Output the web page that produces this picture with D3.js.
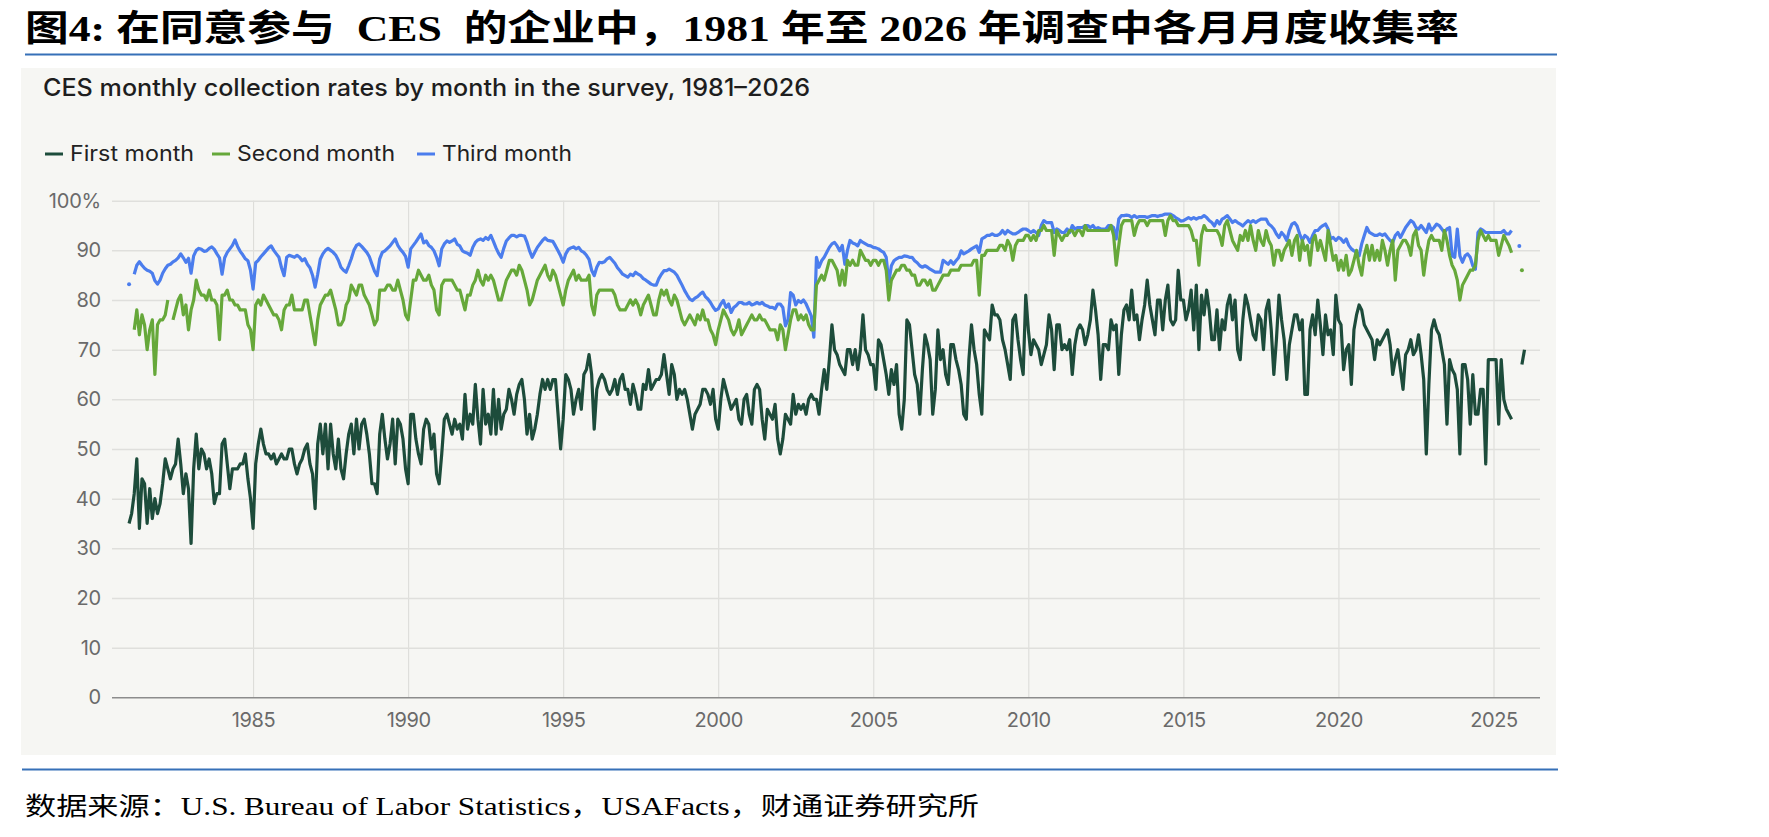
<!DOCTYPE html>
<meta charset="utf-8">
<style>
body { margin: 0; background: #fff; }
svg { display: block; }
.tick text { font-family: Inter, "Open Sans", sans-serif; fill: #6a6a6a; }
</style>
<body></body>
<script src="https://d3js.org/d3.v7.min.js"></script>
<script>

// monthly values, Jan 1981 onwards (null = no estimate published)
var startYear = 1981;

var firstMonth = [
  35, 37, 41, 48, 34, 44, 43, 35, 42, 36, 40, 37,   // 1981
  39, 43, 48, 46, 44, 46, 47, 52, 47, 41, 45, 42,
  31, 46, 53, 46, 50, 49, 46, 48, 45, 39, 41, 41,
  51, 52, 47, 42, 46, 46, 46, 47, 47, 49, 44, 40,
  34, 47, 51, 54, 51, 49, 49, 48, 49, 47, 48, 49,   // 1985
  48, 48, 50, 50, 47, 45, 47, 48, 50, 51, 47, 45,
  38, 51, 55, 49, 55, 46, 55, 49, 46, 52, 46, 44,
  49, 53, 55, 49, 56, 50, 55, 56, 53, 49, 43, 43,
  41, 53, 57, 52, 48, 51, 56, 47, 56, 55, 52, 46,
  43, 57, 57, 52, 49, 47, 54, 56, 55, 50, 53, 45,   // 1990
  43, 49, 56, 57, 55, 53, 56, 54, 55, 52, 61, 54,
  57, 55, 63, 56, 51, 62, 55, 57, 53, 62, 53, 60,
  54, 57, 58, 62, 60, 57, 61, 63, 64, 60, 53, 57,
  52, 54, 57, 61, 64, 62, 64, 62, 64, 64, 57, 50,
  56, 65, 64, 62, 57, 60, 62, 58, 65, 66, 69, 65,   // 1995
  54, 62, 64, 65, 64, 62, 61, 62, 64, 61, 64, 65,
  62, 62, 59, 63, 61, 58, 58, 63, 62, 66, 62, 63,
  64, 64, 65, 69, 65, 61, 67, 65, 60, 62, 61, 62,
  60, 57, 54, 57, 58, 59, 62, 62, 61, 59, 62, 56,
  54, 60, 64, 62, 60, 58, 59, 60, 56, 55, 60, 61,   // 2000
  57, 55, 62, 63, 62, 56, 52, 58, 57, 56, 59, 52,
  49, 52, 57, 56, 55, 61, 57, 59, 58, 59, 57, 60,
  61, 60, 60, 57, 62, 66, 62, 68, 75, 70, 69, 67,
  66, 65, 70, 70, 67, 70, 66, 70, 77, 70, 69, 67,
  67, 62, 72, 71, 68, 65, 61, 66, 63, 67, 57, 54,   // 2005
  60, 76, 75, 70, 65, 63, 57, 66, 73, 71, 68, 57,
  62, 74, 68, 70, 65, 63, 71, 71, 68, 66, 63, 57,
  56, 68, 75, 70, 67, 61, 57, 74, 73, 72, 79, 77,
  77, 76, 72, 70, 67, 64, 76, 77, 72, 68, 65, 81,
  74, 69, 72, 71, 70, 67, 69, 71, 77, 74, 66, 75,   // 2010
  75, 70, 71, 70, 72, 65, 71, 74, 75, 74, 71, 73,
  76, 82, 78, 73, 64, 71, 71, 70, 76, 74, 75, 65,
  73, 78, 79, 76, 82, 76, 77, 72, 76, 79, 84, 79,
  76, 73, 80, 80, 74, 80, 83, 76, 75, 76, 86, 80,
  80, 76, 78, 82, 74, 83, 70, 81, 77, 82, 78, 72,   // 2015
  72, 78, 70, 76, 74, 79, 81, 76, 80, 70, 68, 76,
  81, 79, 76, 73, 72, 77, 76, 70, 78, 80, 74, 65,
  72, 81, 76, 72, 64, 71, 74, 77, 77, 74, 76, 61,
  61, 74, 77, 73, 80, 75, 69, 77, 73, 74, 69, 81,
  76, 75, 66, 70, 71, 63, 74, 77, 79, 78, 75, 74,   // 2020
  73, 72, 68, 72, 71, 72, 73, 74, 71, 65, 68, 70,
  66, 62, 69, 70, 72, 69, 70, 73, 69, 64, 49, 63,
  74, 76, 74, 73, 70, 67, 55, 68, 66, 65, 62, 49,
  67, 67, 64, 55, 65, 57, 57, 62, 62, 47, 68, 68,
  68, 68, 55, 68, 60, 58, 57, 56, null, null, null, 67,   // 2025
  70
];

var secondMonth = [
  null, null, 74, 78, 73, 77, 75, 70, 74, 76, 65, 75,   // 1981
  76, 76, 77, 80, null, 76, 78, 80, 81, 77, 79, 74,
  78, 80, 84, 82, 81, 81, 80, 82, 80, 80, 79, 72,
  81, 81, 82, 80, 80, 79, 79, 78, 78, 78, 75, 74,
  70, 79, 80, 79, 81, 80, 79, 78, 77, 77, 76, 74,   // 1985
  78, 79, 79, 81, 78, 78, 78, 78, 80, 80, 77, 74,
  71, 76, 79, 80, 81, 81, 82, 80, 78, 75, 75, 76,
  79, 80, 83, 82, 81, 83, 83, 81, 80, 79, 77, 75,
  76, 82, 82, 82, 83, 83, 82, 82, 84, 82, 80, 77,
  76, 80, 84, 84, 86, 85, 84, 84, 85, 83, 82, 78,   // 1990
  77, 83, 84, 84, 84, 84, 83, 82, 82, 80, 78, 81,
  81, 83, 84, 86, 84, 83, 85, 84, 85, 84, 82, 80,
  80, 82, 84, 85, 86, 86, 85, 87, 86, 84, 82, 79,
  80, 82, 84, 85, 86, 87, 85, 84, 86, 85, 83, 81,
  79, 82, 84, 85, 86, 84, 85, 84, 84, 84, 85, 79,   // 1995
  77, 81, 82, 82, 82, 82, 82, 82, 81, 79, 78, 78,
  78, 79, 80, 79, 80, 79, 77, 79, 80, 81, 79, 77,
  77, 80, 82, 81, 82, 80, 79, 81, 80, 78, 76, 75,
  76, 77, 76, 75, 77, 76, 78, 76, 76, 74, 73, 71,
  74, 76, 78, 77, 76, 74, 73, 74, 76, 73, 74, 75,   // 2000
  76, 77, 76, 76, 77, 76, 76, 75, 74, 74, 74, 72,
  75, 74, 70, 73, 76, 78, 78, 76, 77, 76, 77, 75,
  74, 74, 83, 84, 85, 84, 86, 88, 88, 87, 86, 83,
  86, 83, 88, 87, 88, 87, 87, 90, 89, 88, 88, 87,
  88, 88, 87, 88, 88, 86, 80, 84, 85, 86, 86, 87,   // 2005
  87, 86, 86, 85, 85, 83, 83, 84, 84, 83, 84, 82,
  82, 83, 84, 85, 85, 85, 86, 86, 86, 86, 87, 87,
  87, 87, 87, 88, 88, 81, 89, 89, 90, 90, 90, 90,
  90, 91, 91, 90, 92, 91, 88, 91, 92, 92, 92, 93,
  93, 92, 93, 92, 94, 94, 95, 94, 94, 94, 89, 94,   // 2010
  93, 92, 93, 93, 94, 94, 93, 94, 94, 93, 95, 94,
  94, 94, 94, 94, 94, 94, 94, 94, 95, 93, 87, 91,
  95, 96, 96, 96, 96, 93, 95, 96, 96, 96, 95, 96,
  96, 96, 96, 96, 96, 93, 96, 97, 96, 96, 95, 95,
  95, 95, 95, 94, 92, 92, 87, 93, 95, 94, 94, 94,   // 2015
  94, 94, 93, 91, 95, 96, 94, 92, 91, 90, 93, 92,
  94, 92, 95, 92, 90, 94, 92, 91, 94, 92, 91, 87,
  90, 90, 88, 90, 91, 92, 89, 92, 93, 88, 92, 90,
  91, 87, 92, 93, 90, 92, 90, 88, 94, 91, 88, 89,
  86, 88, 86, 89, 85, 86, 88, 90, 87, 85, 89, 91,   // 2020
  88, 91, 88, 90, 88, 92, 90, 87, 90, 92, 84, 90,
  91, 92, 92, 91, 89, 93, 94, 91, 90, 85, 89, 92,
  93, 92, 92, 92, 90, 94, 92, 89, 87, 86, 84, 80,
  83, 84, 85, 86, 86, 87, 92, 94, 93, 92, 93, 92,
  92, 92, 89, 91, 93, 92, 91, 89.5, null, null, null, 86   // 2025
];

var thirdMonth = [
  83.2, null, 85.2, 87, 87.7, 87, 86.4, 86, 85.8, 85.4, 83.9, 83.2,   // 1981
  84, 85.4, 86.3, 87, 87.2, 87.7, 88, 88.5, 89.3, 88.5, 87.6, 88.4,
  85.4, 88.9, 90, 90.4, 90.2, 89.8, 89.9, 90.4, 90.7, 90.2, 89.3, 88.5,
  85.2, 88.5, 89.6, 90.3, 91, 92.1, 90.8, 89.8, 89.1, 88.3, 87.9, 86,
  82.2, 87.5, 88, 88.7, 89.3, 89.9, 90.5, 90.9, 90, 89.3, 88.6, 86.5,   // 1985
  84.9, 88.6, 89, 88.8, 88.6, 89, 88.6, 87.9, 88.3, 87.2, 86.5, 85,
  82.6, 85.2, 88.2, 89.3, 90, 90.4, 90, 89.6, 89, 88, 86.6, 86,
  85.6, 86.9, 88.3, 90, 91, 91.3, 90.8, 90.2, 89.6, 88.7, 87.2, 85.8,
  84.9, 88.3, 89.6, 89.9, 90.4, 90.9, 91.6, 92.3, 91, 90.2, 89.6, 88.8,
  86.6, 90.3, 91, 91.7, 92.5, 93.3, 91.5, 91.9, 91, 90.6, 89.9, 88.6,   // 1990
  86.9, 90.3, 91.3, 91.9, 91.6, 91.9, 92.3, 91.2, 90.9, 89.9, 89.6, 89.4,
  89, 90.6, 91.6, 92.1, 92.3, 92, 92.6, 92.2, 93, 91.8, 90.5, 89.4,
  88.6, 90.4, 91.9, 92.5, 93, 93, 92.7, 93, 93, 92.9, 91.6, 89.9,
  88.6, 89.6, 90.6, 91.3, 92, 92.5, 92, 91.9, 91.8, 90.9, 89.9, 88.9,
  87.6, 89.3, 90.2, 90.5, 90.7, 90.3, 90.6, 89.9, 89.6, 89, 88.2, 86,   // 1995
  84.9, 86.6, 87.6, 87.5, 87.7, 88.3, 88.6, 88, 87.4, 86.5, 85.9, 85.2,
  84.9, 84.6, 85.2, 84.9, 85.6, 85.2, 84.9, 84.3, 84, 83.6, 83.2, 83,
  83, 84.3, 85.2, 85.9, 85.9, 86.2, 85.9, 85.6, 85, 84, 83, 81.9,
  81, 80.2, 79.9, 80.4, 80.7, 81.2, 81.6, 80.7, 80.2, 79.5, 78.6, 77.9,
  78.2, 79.2, 79.9, 78.5, 79.2, 77.5, 78.5, 78.9, 79.5, 79.5, 79.2, 79.2,   // 2000
  79.5, 79, 79.2, 79.5, 79.2, 79.5, 79, 78.8, 78.5, 78.5, 78.2, 79.2,
  79.2, 78.5, 74.8, 76, 81.5, 81, 79, 79.9, 79.5, 80, 79.2, 78,
  76.8, 72.5, 88.6, 86.6, 87.9, 88.6, 89.6, 90.6, 91.3, 91.6, 90.9, 89.9,
  91, 87.2, 90, 92, 91.5, 91.3, 90.9, 92, 91.6, 91.3, 91, 90.9,
  90.6, 90.5, 90.3, 89.9, 89.6, 88.6, 83.6, 86.9, 87.9, 88.3, 88.6, 88.6,   // 2005
  88.9, 88.8, 88.6, 88.6, 87.9, 87.5, 86.9, 86.6, 86.9, 86.6, 86.2, 85.9,
  85.6, 85.6, 85.6, 88, 87.6, 87.2, 87.9, 87.2, 87.9, 88.5, 89.9, 89.3,
  89.6, 89.9, 90.3, 90.6, 90.9, 89.6, 92.3, 92.6, 93, 93, 93.3, 93,
  93, 93.3, 94, 93.3, 94, 93.6, 93.3, 93.3, 93.6, 94, 94.3, 94.3,
  94, 93.6, 94, 93.6, 93, 95, 96, 95.6, 95.6, 95.6, 93.6, 94.3,   // 2010
  94, 93.6, 93.6, 94.3, 93.6, 95, 94.3, 94.6, 94.6, 94.6, 95, 95,
  94.6, 95, 94.3, 94.6, 94.3, 94.3, 94.3, 95, 95, 94.6, 92.3, 96.3,
  97, 97, 97.1, 97, 96.6, 97, 96.6, 96.8, 96.8, 96.8, 96.6, 96.8,
  97, 97, 96.8, 97, 97.1, 97.3, 97.3, 97.3, 97, 96.6, 96.3, 95.9,
  96, 96.3, 96.6, 96.3, 96.6, 96.3, 96.6, 96.6, 97, 96.6, 96, 95.6,   // 2015
  94.9, 96, 95.3, 96.3, 96.6, 97, 96.3, 95.6, 96, 95.6, 95.3, 94.9,
  95.5, 96, 95.6, 96, 95.6, 96, 96.3, 96.3, 96.3, 95.3, 94.9, 94.3,
  93.3, 92.6, 93.6, 93, 92, 94, 95.3, 95.6, 94.9, 93.3, 92, 93,
  92.6, 91.6, 93, 94, 94, 94.6, 95, 95.3, 94.3, 92.3, 92.6, 92,
  92.6, 92.3, 91.6, 92.3, 91, 90.3, 89.9, 89.6, 88.9, 91.3, 93, 94.6,   // 2020
  93.6, 93.3, 93, 93, 93.3, 93, 93.3, 92.6, 92, 91.6, 93, 93.6,
  92.6, 93.6, 94.6, 95.3, 96, 95.6, 94.6, 94.3, 95, 94.3, 93.6, 95.3,
  94, 94.6, 95.3, 95, 94.3, 93.6, 94.3, 94.6, 88.9, 88.6, 94.3, 88.9,
  87.6, 88.9, 89.3, 88.6, 86.9, 86.2, 93.6, 94.3, 94, 93.6, 93.6, 93.6,
  93.6, 93.6, 93.6, 93.6, 94, 93.3, 93.3, 94, null, null, 90.9   // 2025
];

var seriesNames = ["First month", "Second month", "Third month"];
var yTicks = [0, 10, 20, 30, 40, 50, 60, 70, 80, 90, 100];
var xTickYears = [1985, 1990, 1995, 2000, 2005, 2010, 2015, 2020, 2025];

var titleText = "图4: 在同意参与  CES  的企业中，1981 年至 2026 年调查中各月月度收集率";
var chartTitle = "CES monthly collection rates by month in the survey, 1981–2026";
var sourceText = "数据来源：U.S. Bureau of Labor Statistics，USAFacts，财通证券研究所";

var colors = ["#1d4c3b", "#66a83a", "#4b7ded"];

var width = 1769,
    height = 837;

var svg = d3.select("body").append("svg")
    .attr("width", width)
    .attr("height", height);

// report header
svg.append("text")
    .attr("x", 25)
    .attr("y", 41)
    .attr("font-family", "'Liberation Serif', 'Noto Sans CJK SC', serif")
    .attr("font-weight", "bold")
    .attr("font-size", 36)
    .attr("textLength", 1434)
    .attr("lengthAdjust", "spacingAndGlyphs")
    .style("white-space", "pre")
    .attr("fill", "#000")
    .text(titleText);

svg.append("line")
    .attr("x1", 25).attr("x2", 1557)
    .attr("y1", 54.5).attr("y2", 54.5)
    .attr("stroke", "#3670b8")
    .attr("stroke-width", 2);

svg.append("rect")
    .attr("x", 21).attr("y", 68)
    .attr("width", 1535).attr("height", 687)
    .attr("fill", "#f6f6f3");

svg.append("text")
    .attr("x", 43)
    .attr("y", 96)
    .attr("font-family", "Inter, sans-serif")
    .attr("font-weight", 500)
    .attr("font-size", 24)
    .attr("textLength", 767)
    .attr("lengthAdjust", "spacingAndGlyphs")
    .attr("fill", "#1e1e1e")
    .text(chartTitle);

// legend
var legendX = [45, 212, 417];
var legendW = [124, 158, 130];
var legend = svg.append("g").selectAll("g")
    .data(seriesNames)
    .enter().append("g")
      .attr("transform", function(d, i) { return "translate(" + legendX[i] + ",0)"; });

legend.append("line")
    .attr("x1", 0).attr("x2", 18)
    .attr("y1", 154).attr("y2", 154)
    .attr("stroke", function(d, i) { return colors[i]; })
    .attr("stroke-width", 3);

legend.append("text")
    .attr("x", 25)
    .attr("y", 161)
    .attr("font-family", "Inter, sans-serif")
    .attr("font-size", 21)
    .attr("textLength", function(d, i) { return legendW[i]; })
    .attr("lengthAdjust", "spacingAndGlyphs")
    .attr("fill", "#222")
    .text(function(d) { return d; });

// scales
var x = d3.scaleLinear()
    .domain([1980.45, 2026.5])
    .range([112, 1540]);

var y = d3.scaleLinear()
    .domain([0, 100])
    .range([697.3, 200.7]);

// y axis + horizontal grid
var yAxis = svg.append("g")
    .attr("transform", "translate(112,0)")
    .call(d3.axisLeft(y)
      .tickValues(yTicks)
      .tickSize(-(1540 - 112))
      .tickPadding(11)
      .tickFormat(function(d) { return d === 100 ? "100%" : d; }));

yAxis.select(".domain").remove();
yAxis.selectAll(".tick line")
    .attr("stroke", function(d) { return d === 0 ? "#8c8c8c" : "#dfdfdc"; })
    .attr("stroke-width", function(d) { return d === 0 ? 1.6 : 1.5; });
yAxis.selectAll(".tick text")
    .attr("font-size", 20)
    .attr("letter-spacing", "-0.2px");

// x axis + vertical grid
var xAxis = svg.append("g")
    .attr("transform", "translate(0," + y(0) + ")")
    .call(d3.axisBottom(x)
      .tickValues(xTickYears)
      .tickSize(-(y(0) - y(100)))
      .tickPadding(16)
      .tickFormat(d3.format("d")));

xAxis.select(".domain").remove();
xAxis.selectAll(".tick line")
    .attr("stroke", "#dadad7")
    .attr("stroke-width", 1);
xAxis.selectAll(".tick text")
    .attr("font-size", 20)
    .attr("letter-spacing", "-0.4px");

// keep the zero line on top of the vertical grid
yAxis.raise();

// series
function toPoints(arr) {
  return arr.map(function(v, i) { return { t: startYear + i / 12, v: v }; });
}

var series = [firstMonth, secondMonth, thirdMonth].map(toPoints);

var line = d3.line()
    .defined(function(d) { return d.v != null; })
    .x(function(d) { return x(d.t); })
    .y(function(d) { return y(d.v); });

var drawOrder = [2, 1, 0];
drawOrder.forEach(function(k) {
  var pts = series[k];
  svg.append("path")
      .datum(pts)
      .attr("fill", "none")
      .attr("stroke", colors[k])
      .attr("stroke-width", 3.2)
      .attr("stroke-linejoin", "round")
      .attr("d", line);

  // lone months with no neighbour show as dots
  var lone = pts.filter(function(d, i) {
    var prev = pts[i - 1], next = pts[i + 1];
    return d.v != null && (!prev || prev.v == null) && (!next || next.v == null);
  });
  svg.append("g").selectAll("circle")
      .data(lone)
      .enter().append("circle")
        .attr("r", 2)
        .attr("cx", function(d) { return x(d.t); })
        .attr("cy", function(d) { return y(d.v); })
        .attr("fill", colors[k]);
});

// footer
svg.append("line")
    .attr("x1", 22).attr("x2", 1558)
    .attr("y1", 769.5).attr("y2", 769.5)
    .attr("stroke", "#3670b8")
    .attr("stroke-width", 2);

svg.append("text")
    .attr("x", 25)
    .attr("y", 815)
    .attr("font-family", "'Liberation Serif', 'Noto Sans CJK SC', serif")
    .attr("font-size", 25)
    .attr("textLength", 954)
    .attr("lengthAdjust", "spacingAndGlyphs")
    .attr("fill", "#000")
    .text(sourceText);

</script>
